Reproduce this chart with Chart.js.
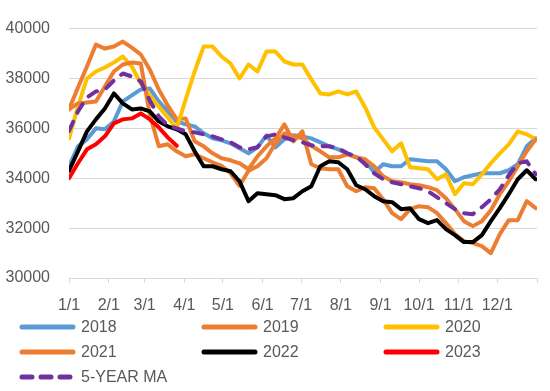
<!DOCTYPE html>
<html>
<head>
<meta charset="utf-8">
<script src="https://cdn.jsdelivr.net/npm/chart.js@4.4.0/dist/chart.umd.min.js"></script>
<style>
  html, body { margin: 0; padding: 0; background: #fff; }
</style>
</head>
<body>
<canvas id="stockChart" width="550" height="391"></canvas>
<script>
// weekly points, x = day of year
const weeks = Array.from({ length: 53 }, (_, i) => i * 7);

const monthStarts = [0, 31, 59, 90, 120, 151, 181, 212, 243, 273, 304, 334, 365];
const monthLabels = ['1/1', '2/1', '3/1', '4/1', '5/1', '6/1', '7/1', '8/1', '9/1', '10/1', '11/1', '12/1', ''];
const yTicks = [30000, 32000, 34000, 36000, 38000, 40000];

const y2018 = [34480, 35280, 35560, 36000, 35960, 36280, 37080, 37320, 37560, 37600, 37080, 36680, 36280, 36160, 36080, 35800, 35600, 35520, 35400, 35200, 35000, 35240, 35720, 35240, 35560, 35720, 35680, 35600, 35440, 35280, 35160, 35000, 34840, 34680, 34240, 34560, 34480, 34480, 34760, 34720, 34680, 34680, 34360, 33880, 34040, 34120, 34200, 34200, 34200, 34320, 34560, 35280, 35600];
const y2019 = [36760, 37640, 38480, 39360, 39200, 39280, 39480, 39240, 38960, 38360, 37560, 36920, 36360, 36400, 35480, 35280, 35000, 34800, 34720, 34600, 34360, 34880, 35280, 35600, 36160, 35480, 35880, 34560, 34400, 34360, 34360, 33680, 33480, 33640, 33600, 33160, 32600, 32360, 32760, 32880, 32840, 32600, 32200, 31760, 31480, 31400, 31280, 31000, 31760, 32320, 32320, 33080, 32800];
const y2020 = [35600, 36880, 38000, 38280, 38440, 38640, 38880, 38480, 37800, 37320, 36880, 36440, 36000, 37160, 38280, 39280, 39280, 38880, 38600, 38000, 38560, 38280, 39080, 39080, 38680, 38560, 38560, 37960, 37400, 37360, 37480, 37360, 37480, 36840, 36040, 35560, 35080, 35400, 34440, 34400, 34360, 33960, 34160, 33360, 33800, 33760, 34160, 34600, 35000, 35360, 35880, 35760, 35560];
const y2021 = [36760, 37000, 37040, 37080, 37680, 38280, 38560, 38640, 38600, 36560, 35280, 35360, 35080, 34880, 34960, 34800, 34640, 34500, 34200, 33700, 34300, 34480, 34800, 35400, 35800, 35700, 35600, 35300, 35080, 34840, 34840, 34960, 34840, 34760, 34480, 34080, 33880, 33840, 33760, 33720, 33640, 33520, 33200, 32760, 32280, 32080, 32280, 32720, 33360, 33880, 34480, 35080, 35560];
const y2022 = [34300, 35080, 35880, 36360, 36800, 37400, 37000, 36760, 36800, 36680, 36280, 36080, 35960, 35760, 35080, 34480, 34480, 34360, 34280, 33880, 33080, 33400, 33360, 33320, 33160, 33200, 33480, 33680, 34480, 34680, 34640, 34360, 33720, 33560, 33280, 33080, 33040, 32760, 32800, 32360, 32200, 32320, 31960, 31720, 31440, 31440, 31720, 32280, 32800, 33360, 33960, 34320, 33960];
const y2023 = [34000, 34600, 35160, 35360, 35680, 36200, 36360, 36400, 36600, 36360, 36040, 35640, 35300];
const yMA = [35900, 36680, 37240, 37480, 37560, 37920, 38200, 38080, 37880, 37120, 36480, 36120, 36000, 35880, 35840, 35760, 35680, 35560, 35440, 35240, 35160, 35240, 35680, 35760, 35640, 35520, 35440, 35320, 35280, 35280, 35200, 35000, 34880, 34560, 34200, 33960, 33840, 33760, 33680, 33600, 33480, 33240, 33000, 32760, 32600, 32560, 32840, 33160, 33560, 34120, 34600, 34680, 34160];

const textColor = '#595959';
const font = { family: "'Liberation Sans', Arial, sans-serif", size: 16 };

function series(label, values, color, order, dash) {
    return {
        label: label,
        data: values.map((v, i) => ({ x: weeks[i], y: v })),
        borderColor: color,
        backgroundColor: color,
        borderWidth: 4,
        borderDash: dash || [],
        order: order
    };
}

// legend drawn in a 3-column grid like the original
const gridLegend = {
    id: 'gridLegend',
    afterDraw(chart) {
        const ctx = chart.ctx;
        ctx.save();
        chart.data.datasets.forEach((ds, i) => {
            const col = i % 3;
            const row = Math.floor(i / 3);
            const x = 19 + col * 182;
            const y = 327 + row * 25;
            ctx.beginPath();
            ctx.lineWidth = 5;
            ctx.lineCap = 'round';
            ctx.strokeStyle = ds.borderColor;
            ctx.setLineDash(ds.borderDash.length ? [10, 9] : []);
            ctx.moveTo(x + 3, y);
            ctx.lineTo(x + 54, y);
            ctx.stroke();
            ctx.setLineDash([]);
            ctx.fillStyle = textColor;
            ctx.font = font.size + 'px ' + font.family;
            ctx.textBaseline = 'middle';
            ctx.textAlign = 'left';
            ctx.fillText(ds.label, x + 62, y + 1);
        });
        ctx.restore();
    }
};

const config = {
    type: 'line',
    data: {
        datasets: [
            series('2018', y2018, '#5B9BD5', 7),
            series('2019', y2019, '#ED7D31', 6),
            series('2020', y2020, '#FFC000', 5),
            series('2021', y2021, '#ED7D31', 4),
            series('2022', y2022, '#000000', 3),
            series('2023', y2023, '#FF0000', 2),
            series('5-YEAR MA', yMA, '#7030A0', 1, [10, 10])
        ]
    },
    options: {
        responsive: false,
        animation: false,
        layout: { padding: { left: 0, right: 5, top: 27, bottom: 0 } },
        elements: {
            point: { radius: 0 },
            line: { tension: 0, borderJoinStyle: 'round', borderCapStyle: 'round' }
        },
        plugins: {
            legend: { display: false },
            tooltip: { enabled: false }
        },
        scales: {
            x: {
                type: 'linear',
                min: 0,
                max: 365,
                afterBuildTicks: scale => { scale.ticks = monthStarts.map(v => ({ value: v })); },
                afterFit: scale => { scale.height = 113; },
                ticks: {
                    autoSkip: false,
                    maxRotation: 0,
                    padding: 13,
                    color: textColor,
                    font: font,
                    callback: (value, index) => monthLabels[index]
                },
                grid: { drawOnChartArea: false, drawTicks: true, tickLength: 5, color: '#D9D9D9' },
                border: { display: true, color: '#D9D9D9' }
            },
            y: {
                min: 30000,
                max: 40000,
                afterBuildTicks: scale => { scale.ticks = yTicks.map(v => ({ value: v })); },
                afterFit: scale => { scale.width = 69; },
                ticks: { padding: 19, color: textColor, font: font, callback: value => String(value) },
                grid: { drawTicks: false, color: '#D9D9D9' },
                border: { display: false }
            }
        }
    },
    plugins: [gridLegend]
};

const myChart = new Chart(document.getElementById('stockChart').getContext('2d'), config);
</script>
</body>
</html>
